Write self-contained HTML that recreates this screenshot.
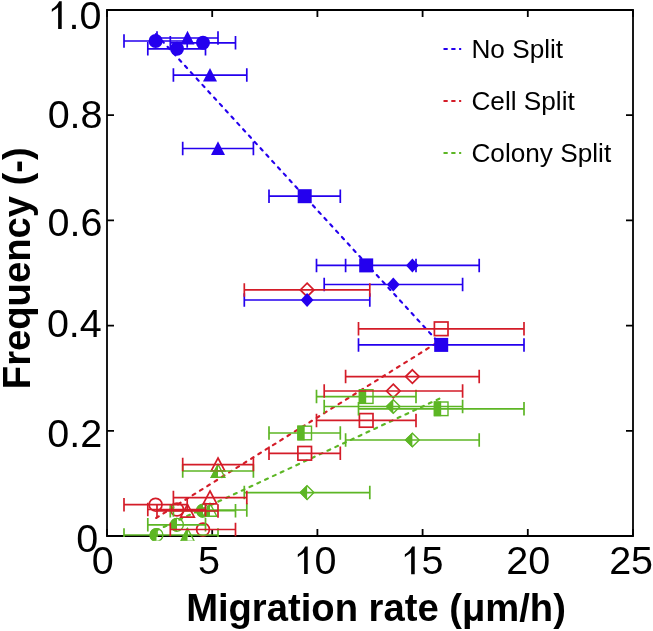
<!DOCTYPE html>
<html><head><meta charset="utf-8"><style>
html,body{margin:0;padding:0;background:#fff;width:653px;height:631px;overflow:hidden}
svg{display:block;will-change:transform}
text{font-family:"Liberation Sans",sans-serif;fill:#000}
</style></head><body>
<svg width="653" height="631" viewBox="0 0 653 631">
<defs><clipPath id="pc"><rect x="106" y="9" width="528" height="528"/></clipPath><clipPath id="mc"><rect x="0" y="0" width="653" height="540.8"/></clipPath></defs>
<rect width="653" height="631" fill="#fff"/>
<path d="M107 10H633V536H107Z" fill="none" stroke="#000" stroke-width="1.8"/>
<path d="M107.0 536V529M107.0 10V17M107 536.0H114M633 536.0H626M212.2 536V529M212.2 10V17M107 430.8H114M633 430.8H626M317.4 536V529M317.4 10V17M107 325.6H114M633 325.6H626M422.6 536V529M422.6 10V17M107 220.4H114M633 220.4H626M527.8 536V529M527.8 10V17M107 115.2H114M633 115.2H626M633.0 536V529M633.0 10V17M107 10.0H114M633 10.0H626" stroke="#000" stroke-width="1.8" fill="none"/>
<path d="M155.6 33.76L441.2 345.35" stroke="#2400ee" stroke-width="2.15" stroke-dasharray="3.00 5.60" stroke-dashoffset="8.09" stroke-linecap="round" fill="none"/>
<path d="M155.6 518.33L441.2 340.12" stroke="#d41c28" stroke-width="2.15" stroke-dasharray="3.00 5.60" stroke-dashoffset="7.93" stroke-linecap="round" fill="none"/>
<path d="M155.6 530.76L441.2 397.82" stroke="#5db625" stroke-width="2.15" stroke-dasharray="3.00 5.60" stroke-dashoffset="8.18" stroke-linecap="round" fill="none"/>
<g clip-path="url(#mc)">
<path d="M156.5 528.00A7 7 0 0 0 156.5 542.00Z" fill="#5db625"/><circle cx="156.5" cy="535.0" r="6.4" fill="none" stroke="#5db625" stroke-width="1.4"/>
<path d="M177.0 517.80A7 7 0 0 0 177.0 531.80Z" fill="#5db625"/><circle cx="177.0" cy="524.8" r="6.4" fill="none" stroke="#5db625" stroke-width="1.4"/>
<path d="M203.0 503.70A7 7 0 0 0 203.0 517.70Z" fill="#5db625"/><circle cx="203.0" cy="510.7" r="6.4" fill="none" stroke="#5db625" stroke-width="1.4"/>
<path d="M187.5 527.60V542.00H179.90Z" fill="#5db625"/><path d="M187.5 528.40L194.30 541.20H180.70Z" fill="none" stroke="#5db625" stroke-width="1.4"/>
<path d="M210.0 502.60V517.00H202.40Z" fill="#5db625"/><path d="M210.0 503.40L216.80 516.20H203.20Z" fill="none" stroke="#5db625" stroke-width="1.4"/>
<path d="M218.0 463.60V478.00H210.40Z" fill="#5db625"/><path d="M218.0 464.40L224.80 477.20H211.20Z" fill="none" stroke="#5db625" stroke-width="1.4"/>
<rect x="297.30" y="425.60" width="7.4" height="14.8" fill="#5db625"/><rect x="297.90" y="426.20" width="13.6" height="13.6" fill="none" stroke="#5db625" stroke-width="1.4"/>
<rect x="358.80" y="389.20" width="7.4" height="14.8" fill="#5db625"/><rect x="359.40" y="389.80" width="13.6" height="13.6" fill="none" stroke="#5db625" stroke-width="1.4"/>
<rect x="433.80" y="401.40" width="7.4" height="14.8" fill="#5db625"/><rect x="434.40" y="402.00" width="13.6" height="13.6" fill="none" stroke="#5db625" stroke-width="1.4"/>
<path d="M307.1 485.00V500.20L299.50 492.6Z" fill="#5db625"/><path d="M307.1 485.80L313.90 492.6L307.1 499.40L300.30 492.6Z" fill="none" stroke="#5db625" stroke-width="1.4"/>
<path d="M393.3 398.90V414.10L385.70 406.5Z" fill="#5db625"/><path d="M393.3 399.70L400.10 406.5L393.3 413.30L386.50 406.5Z" fill="none" stroke="#5db625" stroke-width="1.4"/>
<path d="M412.4 432.40V447.60L404.80 440.0Z" fill="#5db625"/><path d="M412.4 433.20L419.20 440.0L412.4 446.80L405.60 440.0Z" fill="none" stroke="#5db625" stroke-width="1.4"/>
<circle cx="155.6" cy="504.7" r="6.4" fill="none" stroke="#d41c28" stroke-width="1.7"/>
<circle cx="177.0" cy="509.5" r="6.4" fill="none" stroke="#d41c28" stroke-width="1.7"/>
<circle cx="203.0" cy="529.5" r="6.4" fill="none" stroke="#d41c28" stroke-width="1.7"/>
<path d="M187.5 504.40L194.30 517.20H180.70Z" fill="none" stroke="#d41c28" stroke-width="1.7"/>
<path d="M210.0 491.00L216.80 503.80H203.20Z" fill="none" stroke="#d41c28" stroke-width="1.7"/>
<path d="M218.0 458.00L224.80 470.80H211.20Z" fill="none" stroke="#d41c28" stroke-width="1.7"/>
<rect x="297.90" y="446.50" width="13.6" height="13.6" fill="none" stroke="#d41c28" stroke-width="1.7"/>
<rect x="359.40" y="413.60" width="13.6" height="13.6" fill="none" stroke="#d41c28" stroke-width="1.7"/>
<rect x="434.40" y="322.00" width="13.6" height="13.6" fill="none" stroke="#d41c28" stroke-width="1.7"/>
<path d="M307.1 283.10L313.90 289.9L307.1 296.70L300.30 289.9Z" fill="none" stroke="#d41c28" stroke-width="1.7"/>
<path d="M393.3 384.20L400.10 391.0L393.3 397.80L386.50 391.0Z" fill="none" stroke="#d41c28" stroke-width="1.7"/>
<path d="M412.4 369.80L419.20 376.6L412.4 383.40L405.60 376.6Z" fill="none" stroke="#d41c28" stroke-width="1.7"/>
<circle cx="155.6" cy="41.0" r="7" fill="#2400ee"/>
<circle cx="177.0" cy="48.8" r="7" fill="#2400ee"/>
<circle cx="203.0" cy="42.8" r="7" fill="#2400ee"/>
<path d="M187.5 30.80L194.50 44.40H180.50Z" fill="#2400ee"/>
<path d="M210.0 67.90L217.00 81.50H203.00Z" fill="#2400ee"/>
<path d="M218.0 141.30L225.00 154.90H211.00Z" fill="#2400ee"/>
<rect x="297.70" y="189.20" width="14" height="14" fill="#2400ee"/>
<rect x="359.20" y="258.40" width="14" height="14" fill="#2400ee"/>
<rect x="434.20" y="337.90" width="14" height="14" fill="#2400ee"/>
<path d="M307.1 293.00L313.50 300.0L307.1 307.00L300.70 300.0Z" fill="#2400ee"/>
<path d="M393.3 277.50L399.70 284.5L393.3 291.50L386.90 284.5Z" fill="#2400ee"/>
<path d="M412.4 258.40L418.80 265.4L412.4 272.40L406.00 265.4Z" fill="#2400ee"/>
</g>
<g clip-path="url(#pc)">
<path d="M124.0 41.0H187.2M124.0 34.25V47.75M187.2 34.25V47.75M147.8 48.8H205.5M147.8 42.05V55.55M205.5 42.05V55.55M170.3 42.8H235.5M170.3 36.05V49.55M235.5 36.05V49.55M157.0 38.0H218.0M157.0 31.25V44.75M218.0 31.25V44.75M173.4 75.1H246.8M173.4 68.35V81.85M246.8 68.35V81.85M182.7 148.5H253.4M182.7 141.75V155.25M253.4 141.75V155.25M269.0 196.2H340.3M269.0 189.45V202.95M340.3 189.45V202.95M316.5 265.4H416.0M316.5 258.65V272.15M416.0 258.65V272.15M358.5 344.9H524.0M358.5 338.15V351.65M524.0 338.15V351.65M244.3 300.0H369.8M244.3 293.25V306.75M369.8 293.25V306.75M324.2 284.5H462.6M324.2 277.75V291.25M462.6 277.75V291.25M345.6 265.4H479.2M345.6 258.65V272.15M479.2 258.65V272.15" stroke="#2400ee" stroke-width="1.7" fill="none"/>
<path d="M124.0 535.0H187.2M124.0 528.25V541.75M187.2 528.25V541.75M147.8 524.8H205.5M147.8 518.05V531.55M205.5 518.05V531.55M170.3 510.7H235.5M170.3 503.95V517.45M235.5 503.95V517.45M157.0 535.0H218.0M157.0 528.25V541.75M218.0 528.25V541.75M173.4 510.0H246.8M173.4 503.25V516.75M246.8 503.25V516.75M182.7 471.0H253.4M182.7 464.25V477.75M253.4 464.25V477.75M269.0 433.0H340.3M269.0 426.25V439.75M340.3 426.25V439.75M316.5 396.6H416.0M316.5 389.85V403.35M416.0 389.85V403.35M358.5 408.8H524.0M358.5 402.05V415.55M524.0 402.05V415.55M244.3 492.6H369.8M244.3 485.85V499.35M369.8 485.85V499.35M324.2 406.5H462.6M324.2 399.75V413.25M462.6 399.75V413.25M345.6 440.0H479.2M345.6 433.25V446.75M479.2 433.25V446.75" stroke="#5db625" stroke-width="1.7" fill="none"/>
<path d="M124.0 504.7H187.2M124.0 497.95V511.45M187.2 497.95V511.45M147.8 509.5H205.5M147.8 502.75V516.25M205.5 502.75V516.25M170.3 529.5H235.5M170.3 522.75V536.25M235.5 522.75V536.25M157.0 511.0H218.0M157.0 504.25V517.75M218.0 504.25V517.75M173.4 497.6H246.8M173.4 490.85V504.35M246.8 490.85V504.35M182.7 464.6H253.4M182.7 457.85V471.35M253.4 457.85V471.35M269.0 453.3H340.3M269.0 446.55V460.05M340.3 446.55V460.05M316.5 420.4H416.0M316.5 413.65V427.15M416.0 413.65V427.15M358.5 328.8H524.0M358.5 322.05V335.55M524.0 322.05V335.55M244.3 289.9H369.8M244.3 283.15V296.65M369.8 283.15V296.65M324.2 391.0H462.6M324.2 384.25V397.75M462.6 384.25V397.75M345.6 376.6H479.2M345.6 369.85V383.35M479.2 369.85V383.35" stroke="#d41c28" stroke-width="1.7" fill="none"/>
</g>
<g font-size="39.5" fill="#000">
<path transform="translate(46.61 28.90) scale(0.019287 -0.019287)" d="M783 0H597V1125Q530 1060 440 1000Q355 945 270 880V1030Q395 1095 500 1210Q600 1330 650 1430H783Z"/><text x="68.58" y="28.90">.0</text><text x="47.63" y="127.75">0.8</text><text x="47.44" y="236.45">0.6</text><text x="46.90" y="336.65">0.4</text><text x="47.32" y="447.00">0.2</text><text x="76.27" y="551.65">0</text><text x="91.82" y="574.30">0</text><text x="197.95" y="573.79">5</text><path transform="translate(292.60 574.10) scale(0.019287 -0.019287)" d="M783 0H597V1125Q530 1060 440 1000Q355 945 270 880V1030Q395 1095 500 1210Q600 1330 650 1430H783Z"/><text x="314.57" y="574.10">0</text><path transform="translate(399.63 574.15) scale(0.019287 -0.019287)" d="M783 0H597V1125Q530 1060 440 1000Q355 945 270 880V1030Q395 1095 500 1210Q600 1330 650 1430H783Z"/><text x="421.60" y="574.15">5</text><text x="506.26" y="573.95">20</text><text x="609.17" y="574.00">25</text>
</g>

<g stroke-width="2" stroke-dasharray="4.2 3.6" fill="none">
<path d="M443.5 49.1H461.2" stroke="#2400ee"/>
<path d="M443.5 101.1H461.2" stroke="#d41c28"/>
<path d="M443.5 153.1H461.2" stroke="#5db625"/>
</g>
<g font-size="26.2">
<text x="471.45" y="58.3">No Split</text>
<text x="471.45" y="110.3">Cell Split</text>
<text x="471.45" y="161.8">Colony Split</text>
</g>

<text transform="translate(0 621) scale(1 1.026)" x="186.14" y="0" font-size="38.2" font-weight="bold">Migration rate (μm/h)</text>
<text transform="translate(30 389.16) rotate(-90) scale(1 1.026)" font-size="38.2" font-weight="bold">Frequency (-)</text>
</svg>
</body></html>
